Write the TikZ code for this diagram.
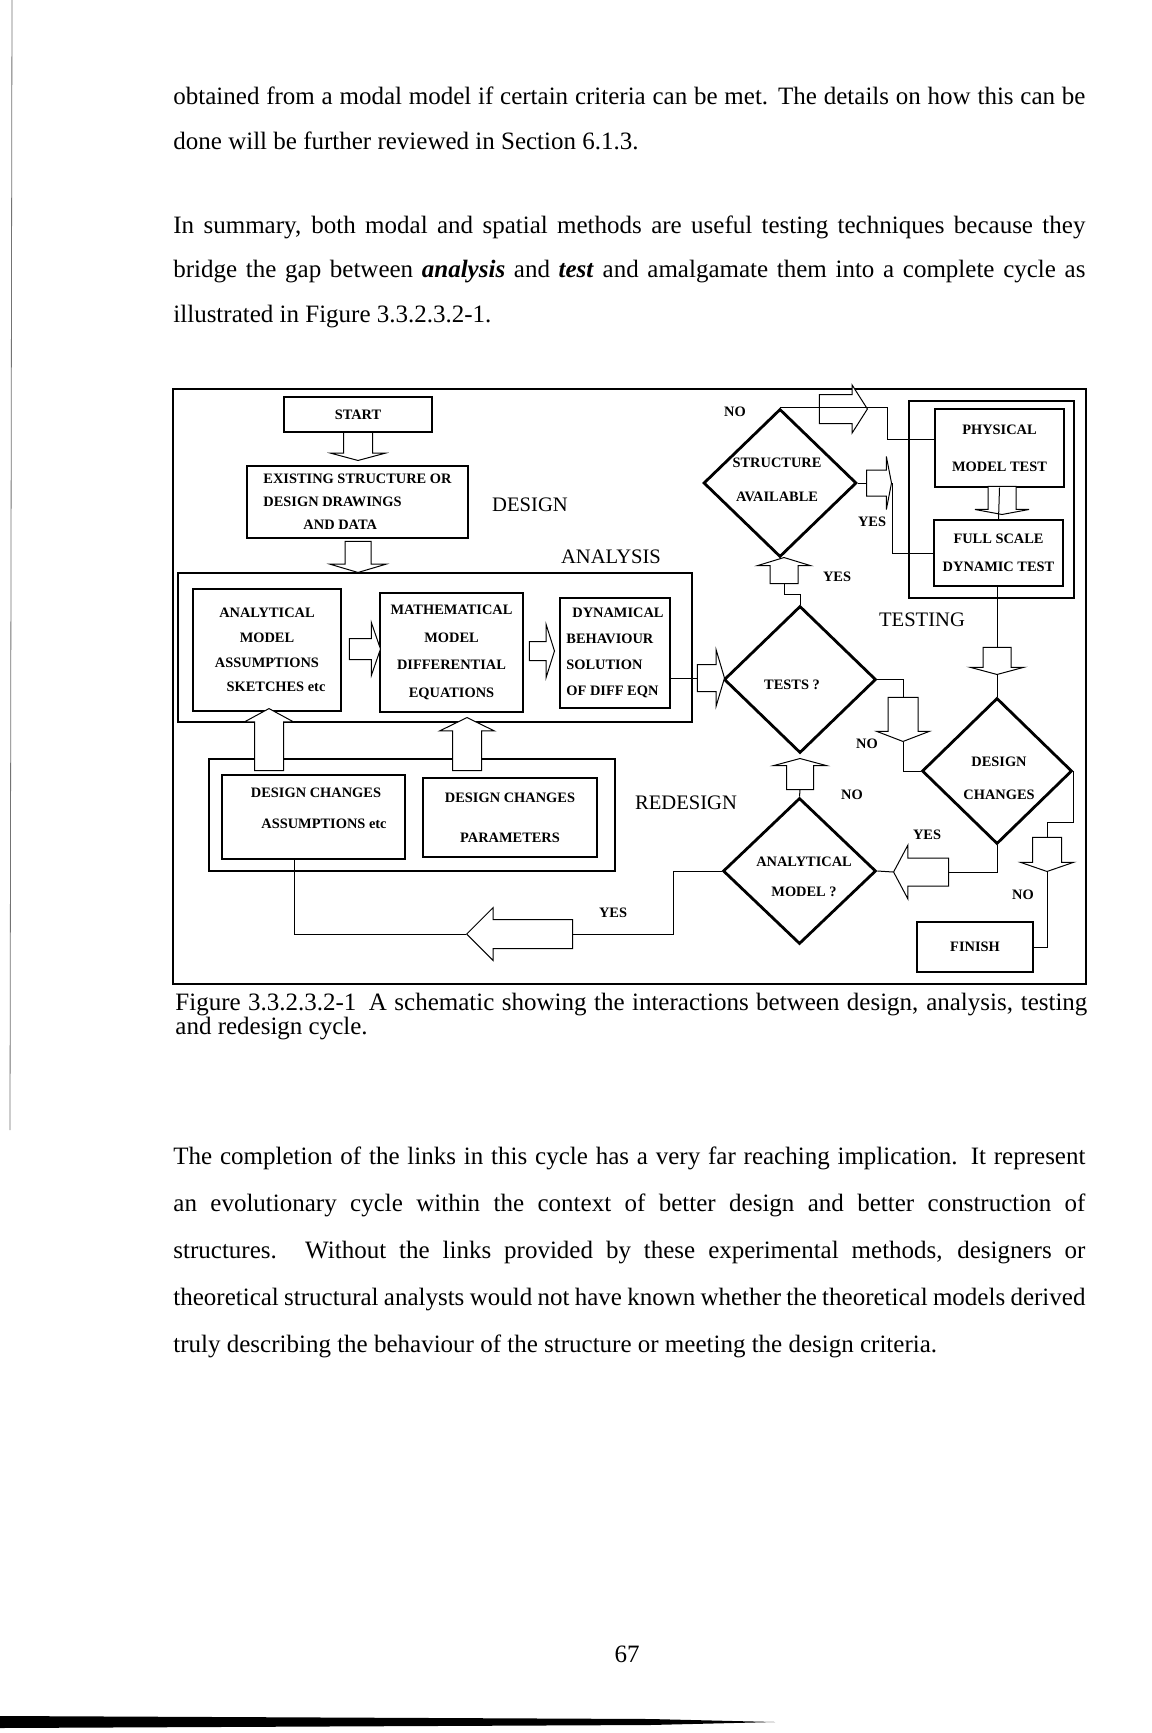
\documentclass[tikz,border=0pt]{standalone}
\usepackage{fontspec}
\setmainfont{Liberation Serif}
\usetikzlibrary{shapes.geometric,shapes.arrows}
\newcommand\dfont[1]{\bfseries\fontsize{7.2}{#1}\selectfont}
\newcommand\fullline[1]{\makebox[456pt][s]{#1}}
\tikzset{
  page/.style={
    font=\fontsize{12.5}{14}\selectfont,
    inner sep=0pt,
    anchor=base west
  },
  box/.style={
    draw,
    line width=.6pt,
    inner sep=1pt,
    align=center,
    font=\dfont{12pt}
  },
  thickbox/.style={
    box,
    line width=1.4pt
  },
  decision/.style={
    diamond,
    draw,
    line width=1.4pt,
    inner sep=0pt
  },
  lbl/.style={
    inner sep=0pt,
    align=center,
    font=\dfont{9pt}
  },
  stage/.style={
    inner sep=0pt,
    font=\fontsize{10.3}{12}\selectfont
  },
  blockarrow/.style={
    single arrow,
    draw,
    fill=white,
    line width=.5pt,
    inner xsep=0pt,
    anchor=tip
  },
  link/.style={
    line width=.5pt
  }
}

\begin{document}
\begin{tikzpicture}[x=.5pt, y=-.5pt]
\fill[white] (0,0) rectangle (1151,1733);
\useasboundingbox (0,0) rectangle (1151,1733);

% text of the page
\node[page] (p1a) at (173,105) {\fullline{obtained from a modal model if certain criteria can be met. The details on how this can be}};
\node[page] (p1b) at (173,150) {done will be further reviewed in Section 6.1.3.};
\node[page] (p2a) at (173,234) {\fullline{In summary, both modal and spatial methods are useful testing techniques because they}};
\node[page] (p2b) at (173,278) {\fullline{bridge the gap between \textbf{\textit{analysis}} and \textbf{\textit{test}} and amalgamate them into a complete cycle as}};
\node[page] (p2c) at (173,323) {illustrated in Figure 3.3.2.3.2-1.};

\node[page] (cap1) at (175,1010) {\fullline{Figure 3.3.2.3.2-1\enspace A schematic showing the interactions between design, analysis, testing}};
\node[page] (cap2) at (175,1034) {and redesign cycle.};

\node[page] (p3a) at (173,1164) {\fullline{The completion of the links in this cycle has a very far reaching implication. It represent}};
\node[page] (p3b) at (173,1211) {\fullline{an evolutionary cycle within the context of better design and better construction of}};
\node[page] (p3c) at (173,1258) {\fullline{structures. Without the links provided by these experimental methods, designers or}};
\node[page] (p3d) at (173,1305) {\fullline{theoretical structural analysts would not have known whether the theoretical models derived}};
\node[page] (p3e) at (173,1352) {truly describing the behaviour of the structure or meeting the design criteria.};

\node[page, anchor=base] (pnum) at (627,1662) {67};

% edges of the scanned sheet
\draw[black!55, line width=.4pt] (12,0) -- (10,1130);
\fill (0,1716) -- (650,1719) -- (775,1722) -- (650,1725) -- (0,1728) -- cycle;

% figure frame
\node[draw, line width=.6pt, inner sep=0pt, minimum width=456.5pt, minimum height=297.5pt] (frame) at (629.5,686.5) {};

% groups
\node[thickbox, minimum width=257pt, minimum height=74.5pt] (analysis) at (435,647.5) {};
\node[thickbox, minimum width=82.5pt, minimum height=98.5pt] (testgrp) at (991.5,499.5) {};
\node[thickbox, minimum width=203pt, minimum height=56pt] (redes) at (412,815) {};

% boxes
\node[thickbox, minimum width=74pt, minimum height=17.5pt, font=\dfont{9pt}] (start) at (358,414.5) {START};
\node[thickbox, minimum width=110.5pt, minimum height=36pt, align=left, font=\dfont{11.5pt}] (exist) at (357.5,502) {EXISTING STRUCTURE OR\\DESIGN DRAWINGS\\\hspace*{20pt}AND DATA};
\node[box, minimum width=74pt, minimum height=61pt, font=\dfont{12.3pt}] (am) at (267,650) {ANALYTICAL\\MODEL\\ASSUMPTIONS\\\hspace*{9pt}SKETCHES etc};
\node[box, minimum width=71.5pt, minimum height=59.5pt, font=\dfont{13.8pt}] (mm) at (451.5,652.5) {MATHEMATICAL\\MODEL\\DIFFERENTIAL\\EQUATIONS};
\node[box, minimum width=55pt, minimum height=55pt, align=left, font=\dfont{13pt}] (db) at (615,653) {\hspace*{3pt}DYNAMICAL\\BEHAVIOUR\\SOLUTION\\OF DIFF EQN};
\node[box, minimum width=64.5pt, minimum height=39pt, font=\dfont{18.5pt}] (phys) at (999.5,448) {PHYSICAL\\MODEL TEST};
\node[box, minimum width=64.5pt, minimum height=33pt, font=\dfont{14pt}] (full) at (998.5,553) {FULL SCALE\\DYNAMIC TEST};
\node[box, minimum width=91.5pt, minimum height=42pt] (dca) at (313.5,817) {};
\node[lbl, font=\dfont{15.5pt}] (dcatxt) at (316,808) {DESIGN CHANGES\\\hspace*{8pt}ASSUMPTIONS etc};
\node[box, minimum width=87pt, minimum height=39.5pt, font=\dfont{20pt}] (dcp) at (510,817.5) {DESIGN CHANGES\\PARAMETERS};
\node[thickbox, minimum width=58pt, minimum height=25pt, font=\dfont{9pt}] (finish) at (975,947) {FINISH};

% decisions
\node[decision, minimum width=76.5pt, minimum height=74pt] (sa) at (780,483) {};
\node[lbl, font=\dfont{17pt}] (satxt) at (777,480) {STRUCTURE\\AVAILABLE};
\node[decision, minimum width=76pt, minimum height=73.5pt] (tests) at (800,679.5) {};
\node[lbl] (teststxt) at (792,685) {TESTS ?};
\node[decision, minimum width=75pt, minimum height=73pt] (dc) at (997,771) {};
\node[lbl, font=\dfont{16.5pt}] (dctxt) at (999,778) {DESIGN\\CHANGES};
\node[decision, minimum width=76.5pt, minimum height=73pt] (amq) at (799.5,871) {};
\node[lbl, font=\dfont{15pt}] (amqtxt) at (804,877) {ANALYTICAL\\MODEL ?};

% stage names
\node[stage] (ldesign) at (530,505) {DESIGN};
\node[stage] (lanalysis) at (611,557) {ANALYSIS};
\node[stage] (ltesting) at (922,620) {TESTING};
\node[stage] (lredesign) at (686,803) {REDESIGN};

% block arrows
\node[blockarrow, rotate=270, minimum height=14pt, minimum width=26.5pt, inner ysep=7pt, single arrow head extend=6.25pt, single arrow tip angle=150] (ar1) at (358,461) {};
\node[blockarrow, rotate=270, minimum height=15.5pt, minimum width=27.5pt, inner ysep=6.25pt, single arrow head extend=7.5pt, single arrow tip angle=147] (ar2) at (358,573) {};
\node[blockarrow, minimum height=15.5pt, minimum width=26pt, inner ysep=5pt, single arrow head extend=8pt, single arrow tip angle=142] (ar3) at (381,649) {};
\node[blockarrow, minimum height=12.5pt, minimum width=26pt, inner ysep=4.5pt, single arrow head extend=8.5pt, single arrow tip angle=145] (ar4) at (555,651) {};
\node[blockarrow, minimum height=13.5pt, minimum width=27.5pt, inner ysep=6.5pt, single arrow head extend=7.25pt, single arrow tip angle=147] (ar5) at (725,678) {};
\node[blockarrow, minimum height=24pt, minimum width=23.5pt, inner ysep=7pt, single arrow head extend=4.75pt, single arrow tip angle=115] (ar6) at (868,409) {};
\node[blockarrow, minimum height=12.5pt, minimum width=26pt, inner ysep=6.25pt, single arrow head extend=6.75pt, single arrow tip angle=158] (ar7) at (892,483) {};
\node[blockarrow, rotate=270, minimum height=14pt, minimum width=26.5pt, inner ysep=6.75pt, single arrow head extend=6.5pt, single arrow tip angle=159] (ar8) at (1002,515) {};
\node[blockarrow, rotate=90, minimum height=13pt, minimum width=26pt, inner ysep=6.75pt, single arrow head extend=6.25pt, single arrow tip angle=146] (ar9) at (784,557) {};
\node[blockarrow, rotate=270, minimum height=22pt, minimum width=26pt, inner ysep=7.25pt, single arrow head extend=5.75pt, single arrow tip angle=138] (ar10) at (903,742) {};
\node[blockarrow, rotate=270, minimum height=13.5pt, minimum width=26.5pt, inner ysep=6.75pt, single arrow head extend=6.5pt, single arrow tip angle=150] (ar11) at (997,675) {};
\node[blockarrow, rotate=270, minimum height=17pt, minimum width=26pt, inner ysep=7pt, single arrow head extend=6pt, single arrow tip angle=142] (ar12) at (1047,872) {};
\node[blockarrow, rotate=180, minimum height=27.5pt, minimum width=26.5pt, inner ysep=6.75pt, single arrow head extend=6.5pt, single arrow tip angle=124] (ar13) at (893,872) {};
\node[blockarrow, rotate=90, minimum height=15.5pt, minimum width=26pt, inner ysep=6.5pt, single arrow head extend=6.5pt, single arrow tip angle=150] (ar14) at (800,758) {};
\node[blockarrow, rotate=180, minimum height=53pt, minimum width=26pt, inner ysep=7pt, single arrow head extend=6pt, single arrow tip angle=90] (ar15) at (466,934) {};
\node[blockarrow, rotate=90, minimum height=31pt, minimum width=24pt, inner ysep=7pt, single arrow head extend=5pt, single arrow tip angle=123] (ar16) at (269,708) {};
\node[blockarrow, rotate=90, minimum height=26.5pt, minimum width=27pt, inner ysep=7pt, single arrow head extend=6.5pt, single arrow tip angle=128] (ar17) at (467,717) {};

% connectors
\coordinate (nocorner) at (887,439);
\coordinate (back) at (294,900);
\draw[link] (sa.north) -| (nocorner) -- (nocorner -| phys.west);
\draw[link] (sa.east) -- (ar7.tail);
\draw[link] (ar7.tip) |- (full.west);
\draw[link] (phys.south) -- (full.north);
\draw[link] (ar9.tail) -- ++(0,10) -| (tests.north);
\draw[link] (ar5.tail -| db.east) -- (ar5.tail);
\draw[link] (tests.east) -| (ar10.tail);
\draw[link] (ar10.tip) |- (dc.west);
\draw[link] (ar11.tail |- full.south) -- (ar11.tail);
\draw[link] (ar11.tip) -- (dc.north);
\draw[link] (dc.east) -- ++(0,51) -| (ar12.tail);
\draw[link] (ar12.tip) |- (finish.east);
\draw[link] (dc.south) |- (ar13.tail);
\draw[link] (ar13.tip) -- (amq.east);
\draw[link] (amq.north) -- (ar14.tail);
\draw[link] (amq.west) -- ++(-48,0) |- (ar15.tail);
\draw[link] (ar15.tip) -| (back |- dca.south);

% yes / no
\node[lbl] (no1) at (735,412) {NO};
\node[lbl] (yes1) at (872,522) {YES};
\node[lbl] (yes2) at (837,577) {YES};
\node[lbl] (no2) at (867,744) {NO};
\node[lbl] (no3) at (852,795) {NO};
\node[lbl] (yes3) at (927,835) {YES};
\node[lbl] (no4) at (1023,895) {NO};
\node[lbl] (yes4) at (613,913) {YES};
\end{tikzpicture}
\end{document}
